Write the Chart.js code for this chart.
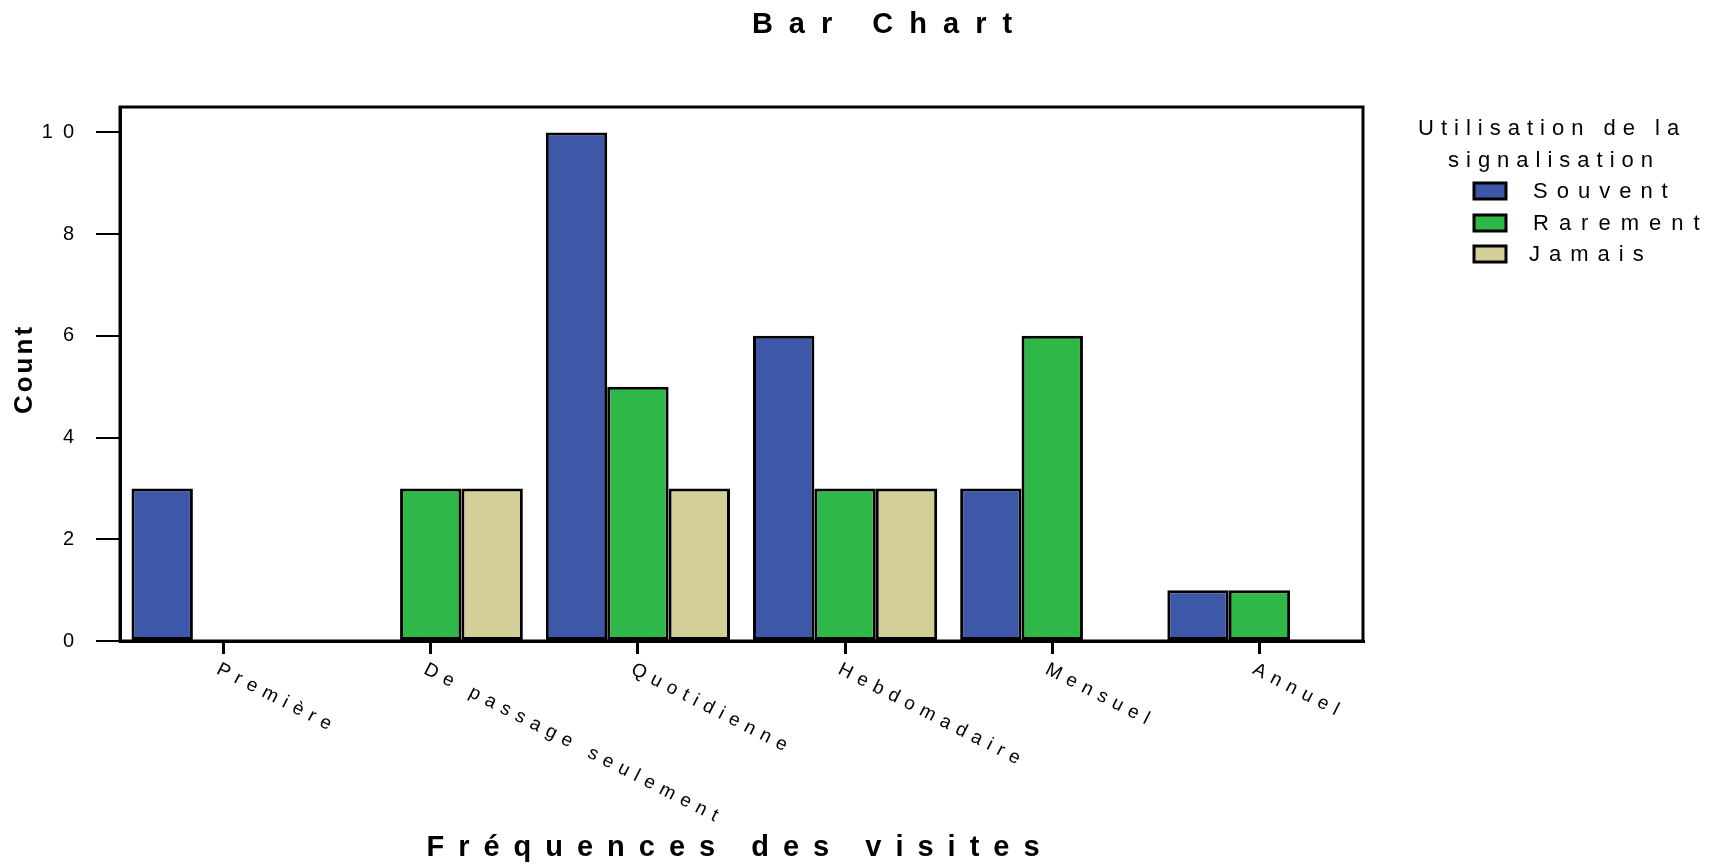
<!DOCTYPE html>
<html>
<head>
<meta charset="utf-8">
<script src="https://cdn.jsdelivr.net/npm/chart.js@4.4.0/dist/chart.umd.min.js"></script>
<style>
  html, body { margin: 0; padding: 0; background: #fff; }
  #wrap { width: 1720px; height: 866px; }
</style>
</head>
<body>
<div id="wrap"><canvas id="barChart" width="1720" height="866"></canvas></div>
<script>
// Données
const categories = ['Première', 'De passage seulement', 'Quotidienne', 'Hebdomadaire', 'Mensuel', 'Annuel'];
const souvent = [3, 0, 10, 6, 3, 1];
const rarement = [0, 3, 5, 3, 6, 1];
const jamais = [0, 3, 3, 3, 0, 0];
const seriesLabels = ['Souvent', 'Rarement', 'Jamais'];
const yTicks = [0, 2, 4, 6, 8, 10];

const colors = ['rgb(61, 88, 168)', 'rgb(46, 184, 72)', 'rgb(212, 206, 152)'];
const FONT = '"Liberation Sans", Arial, sans-serif';

// Plugin pour les textes (titre, axes, légende) et le cadre
const decorPlugin = {
  id: 'decor',
  beforeDraw(chart) {
    chart.ctx.letterSpacing = '10px';
  },
  afterDraw(chart) {
    const ctx = chart.ctx;
    const area = chart.chartArea;
    const xScale = chart.scales.x;

    ctx.save();
    // cadre du graphique
    ctx.strokeStyle = '#000';
    ctx.lineWidth = 3;
    ctx.strokeRect(area.left, area.top, area.right - area.left, area.bottom - area.top);

    ctx.fillStyle = '#000';
    // titre
    ctx.font = 'bold 29px ' + FONT;
    ctx.letterSpacing = '16px';
    ctx.textAlign = 'center';
    ctx.textBaseline = 'middle';
    ctx.fillText('Bar Chart', 890, 25);

    // titre axe X
    ctx.letterSpacing = '14px';
    ctx.fillText('Fréquences des visites', 740, 848);

    // titre axe Y
    ctx.save();
    ctx.translate(25, 369);
    ctx.rotate(-Math.PI / 2);
    ctx.font = 'bold 26px ' + FONT;
    ctx.letterSpacing = '3px';
    ctx.fillText('Count', 0, 0);
    ctx.restore();

    // étiquettes de l'axe X, en diagonale
    ctx.font = '19px ' + FONT;
    ctx.letterSpacing = '7px';
    ctx.textAlign = 'left';
    ctx.textBaseline = 'alphabetic';
    categories.forEach((cat, i) => {
      const x = xScale.getPixelForValue(i);
      ctx.save();
      ctx.translate(x - 8, 673);
      ctx.rotate(27 * Math.PI / 180);
      ctx.fillText(cat, 0, 0);
      ctx.restore();
    });

    // légende
    ctx.font = '22px ' + FONT;
    ctx.letterSpacing = '7px';
    ctx.textBaseline = 'middle';
    ctx.fillText('Utilisation de la', 1418, 129);
    ctx.fillText('signalisation', 1448, 161);
    const boxY = [191, 223, 254];
    chart.data.datasets.forEach((ds, i) => {
      ctx.fillStyle = ds.backgroundColor;
      ctx.fillRect(1474, boxY[i] - 8, 32, 16);
      ctx.strokeStyle = '#000';
      ctx.lineWidth = 3;
      ctx.strokeRect(1474, boxY[i] - 8, 32, 16);
      ctx.fillStyle = '#000';
      ctx.letterSpacing = i === 1 ? '10px' : '9px';
      ctx.fillText(ds.label, i === 2 ? 1529 : 1533, boxY[i] + 1);
    });
    ctx.restore();
  }
};

const ctx = document.getElementById('barChart').getContext('2d');
new Chart(ctx, {
  type: 'bar',
  data: {
    labels: categories,
    datasets: [souvent, rarement, jamais].map((data, i) => ({
      label: seriesLabels[i],
      data: data,
      backgroundColor: colors[i],
      borderColor: '#000',
      borderWidth: 3,
      borderSkipped: false,
      barPercentage: 1,
      categoryPercentage: 0.889
    }))
  },
  options: {
    responsive: false,
    animation: false,
    devicePixelRatio: 1,
    layout: {
      padding: { top: 107, right: 357, bottom: 0, left: 0 }
    },
    plugins: {
      legend: { display: false },
      title: { display: false },
      tooltip: { enabled: false }
    },
    scales: {
      x: {
        afterFit(scale) { scale.height = 225; },
        ticks: { display: false },
        grid: {
          offset: false,
          drawOnChartArea: false,
          tickLength: 13,
          color: '#000',
          lineWidth: 3
        },
        border: { display: true, color: '#000', width: 3 }
      },
      y: {
        min: 0,
        max: 10.5,
        afterFit(scale) { scale.width = 120; },
        afterBuildTicks(scale) {
          scale.ticks = yTicks.map(v => ({ value: v }));
        },
        ticks: {
          color: '#000',
          padding: 12,
          font: { family: FONT, size: 20 }
        },
        grid: {
          drawOnChartArea: false,
          tickLength: 24,
          color: '#000',
          lineWidth: 2
        },
        border: { display: true, color: '#000', width: 3 }
      }
    }
  },
  plugins: [decorPlugin]
});
</script>
</body>
</html>
